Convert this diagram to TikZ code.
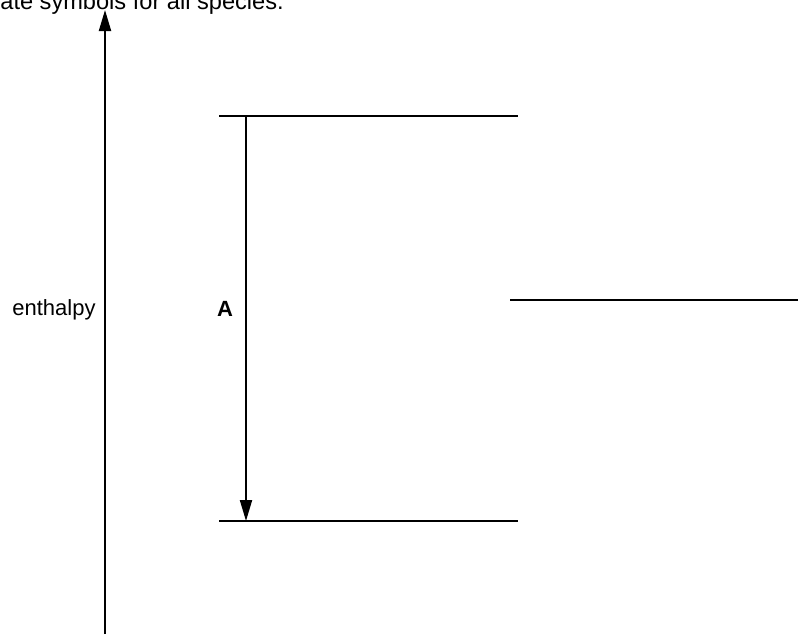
\documentclass[tikz,border=0pt]{standalone}
\usepackage{fontspec}
\setmainfont{Liberation Sans}
\usepackage{tikz}
\usetikzlibrary{arrows.meta, positioning}

\begin{document}
\begin{tikzpicture}[x=0.5pt, y=-0.5pt,
	wire/.style={line width=1pt},
	lbl/.style={inner sep=0pt, font=\fontsize{11}{13}\selectfont}]
	\useasboundingbox (0,0) rectangle (798,634);
	% Axis, levels and labels:
	\node[lbl, anchor=base west, font=\fontsize{11.8}{14}\selectfont](N1) at (0, 9){ate symbols for all species.};
	\coordinate (C1) at (105, 634);
	\coordinate (C2) at (105, 10);
	\draw[wire, -{Triangle[length=10.5pt, width=6pt]}] (C1) -- (C2);
	\node[lbl, anchor=base west](N2) at (12, 315){enthalpy};
	\coordinate (C3) at (219, 116);
	\coordinate (C4) at (518, 116);
	\draw[wire] (C3) -- (C4);
	\coordinate (C5) at (219, 521);
	\coordinate (C6) at (518, 521);
	\draw[wire] (C5) -- (C6);
	\coordinate (C7) at (510, 300);
	\coordinate (C8) at (798, 300);
	\draw[wire] (C7) -- (C8);
	\coordinate (C9) at (246, 116);
	\coordinate (C10) at (246, 521);
	\draw[wire, -{Triangle[length=10.5pt, width=6pt]}] (C9) -- (C10);
	\node[lbl, anchor=base, font=\fontsize{11}{13}\selectfont\bfseries](N3) at (225, 316){A};
\end{tikzpicture}
\end{document}
